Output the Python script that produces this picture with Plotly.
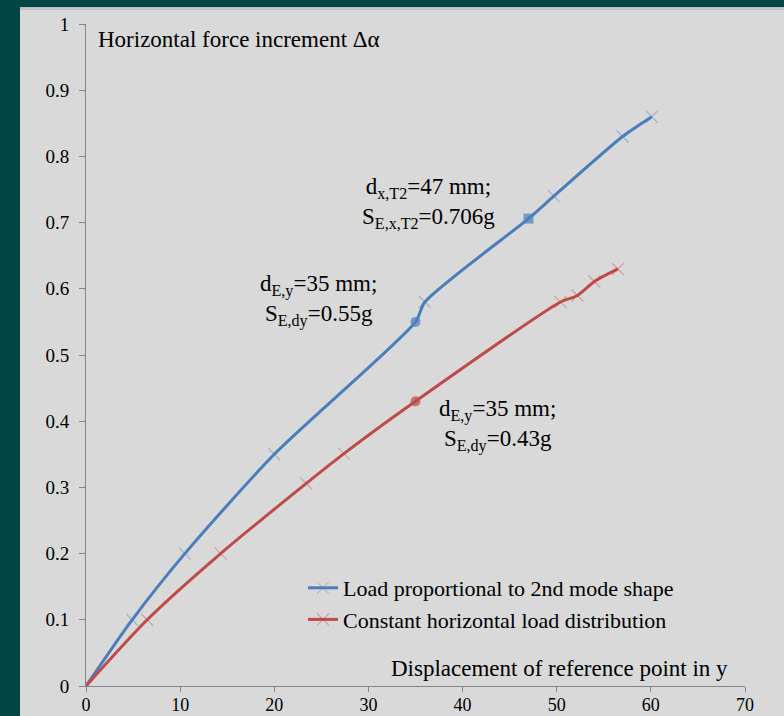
import plotly.graph_objects as go

# ---- data ----
blue_x = [0, 4.9, 10.5, 20, 35, 36, 47, 49.7, 57, 60.1]
blue_y = [0, 0.1, 0.2, 0.35, 0.55, 0.58, 0.706, 0.74, 0.83, 0.86]
blue_kind = ["x", "x", "x", "x", "circle", "x", "square", "x", "x", "x"]

red_x = [0, 6.5, 14.3, 23.4, 27.4, 35, 50.4, 52.2, 54.0, 56.5]
red_y = [0, 0.1, 0.2, 0.306, 0.351, 0.43, 0.58, 0.59, 0.611, 0.63]
red_kind = ["x", "x", "x", "x", "x", "circle", "x", "x", "x", "x"]

x_ticks = [0, 10, 20, 30, 40, 50, 60, 70]
y_ticks = [0, 0.1, 0.2, 0.3, 0.4, 0.5, 0.6, 0.7, 0.8, 0.9, 1]
y_ticktext = ["0", "0.1", "0.2", "0.3", "0.4", "0.5", "0.6", "0.7", "0.8", "0.9", "1"]

series_names = ["Load proportional to 2nd mode shape", "Constant horizontal load distribution"]

# ---- style ----
FONT = "Liberation Serif"
BLUE = "#4a7ebb"
BLUE_X = "rgba(74,126,187,0.55)"
RED = "#be4b48"
RED_X = "rgba(190,75,72,0.55)"
TEAL = "#014644"
PANEL = "#d9d9d9"

W, H = 784, 716
ML, MR, MT, MB = 86, 39, 24, 30
PW, PH = W - ML - MR, H - MT - MB


def px_x(px):
    return (px - ML) / PW


def px_y(py):
    return (H - MB - py) / PH


def marker_style(kinds, solid, faded):
    sym = {"x": "x-thin-open", "circle": "circle", "square": "square"}
    size = {"x": 12, "circle": 10, "square": 10}
    return dict(
        symbol=[sym[k] for k in kinds],
        size=[size[k] for k in kinds],
        color=[faded if k == "x" else solid for k in kinds],
        line=dict(width=[1.3 if k == "x" else 0 for k in kinds],
                  color=[faded if k == "x" else solid for k in kinds]),
    )


fig = go.Figure()
fig.add_trace(go.Scatter(
    x=blue_x, y=blue_y, mode="lines+markers", name=series_names[0],
    line=dict(color=BLUE, width=3, shape="spline", smoothing=0.7),
    marker=marker_style(blue_kind, BLUE, BLUE_X),
))
fig.add_trace(go.Scatter(
    x=red_x, y=red_y, mode="lines+markers", name=series_names[1],
    line=dict(color=RED, width=3, shape="spline", smoothing=0.7),
    marker=marker_style(red_kind, RED, RED_X),
))

txt = dict(family=FONT, size=23, color="#000000")
annotations = [
    dict(x=1.1, y=0.976, xref="x", yref="y", xanchor="left", yanchor="middle",
         text="Horizontal force increment Δα", showarrow=False, font=txt),
    dict(x=36.4, y=0.729, xref="x", yref="y", xanchor="center", yanchor="middle",
         text="d<sub>x,T2</sub>=47 mm;<br>S<sub>E,x,T2</sub>=0.706g", showarrow=False, font=txt),
    dict(x=24.7, y=0.5816, xref="x", yref="y", xanchor="center", yanchor="middle",
         text="d<sub>E,y</sub>=35 mm;<br>S<sub>E,dy</sub>=0.55g", showarrow=False, font=txt),
    dict(x=43.7, y=0.393, xref="x", yref="y", xanchor="center", yanchor="middle",
         text="d<sub>E,y</sub>=35 mm;<br>S<sub>E,dy</sub>=0.43g", showarrow=False, font=txt),
    dict(x=68.4, y=0.027, xref="x", yref="y", xanchor="right", yanchor="middle",
         text="Displacement of reference point in y", showarrow=False, font=txt),
]

shapes = [
    dict(type="rect", xref="paper", yref="paper", x0=px_x(0), x1=px_x(20), y0=px_y(H), y1=px_y(0),
         fillcolor=TEAL, line=dict(width=0), layer="below"),
    dict(type="rect", xref="paper", yref="paper", x0=px_x(0), x1=px_x(W), y0=px_y(7.5), y1=px_y(0),
         fillcolor=TEAL, line=dict(width=0), layer="below"),
    dict(type="rect", xref="paper", yref="paper", x0=px_x(20), x1=px_x(W), y0=px_y(8.5), y1=px_y(7.5),
         fillcolor="#f2f2f2", line=dict(width=0), layer="below"),
    dict(type="rect", xref="paper", yref="paper", x0=px_x(20), x1=px_x(W), y0=px_y(9.5), y1=px_y(8.5),
         fillcolor="#a6a6a6", line=dict(width=0), layer="below"),
]

fig.update_layout(
    width=W, height=H, autosize=False,
    margin=dict(l=ML, r=MR, t=MT, b=MB, pad=0, autoexpand=False),
    paper_bgcolor=PANEL, plot_bgcolor=PANEL,
    font=dict(family=FONT, color="#000000"),
    showlegend=True,
    legend=dict(x=px_x(303), y=px_y(567), xanchor="left", yanchor="top",
                bgcolor="rgba(0,0,0,0)", borderwidth=0,
                font=dict(family=FONT, size=22, color="#000000"),
                itemwidth=30, tracegroupgap=0),
    annotations=annotations,
    shapes=shapes,
)
fig.update_xaxes(range=[0, 70], tickvals=x_ticks, ticktext=[str(v) for v in x_ticks],
                 automargin=False,
                 showgrid=False, zeroline=False, showline=True, linecolor="#868686", linewidth=1,
                 ticks="outside", ticklen=5, tickcolor="#868686",
                 tickfont=dict(family=FONT, size=18, color="#000000"), ticklabelstandoff=-3)
fig.update_yaxes(range=[0, 1], tickvals=y_ticks, ticktext=y_ticktext,
                 automargin=False,
                 showgrid=False, zeroline=False, showline=True, linecolor="#868686", linewidth=1,
                 ticks="outside", ticklen=6, tickcolor="#868686",
                 tickfont=dict(family=FONT, size=19, color="#000000"), ticklabelstandoff=6)

fig.write_html("out.html",
               config={"displayModeBar": False},
               post_script=("document.body.style.margin='0';"
                            "document.body.style.overflow='hidden';"
                            "document.documentElement.style.background='" + PANEL + "';"
                            "document.body.style.background='" + PANEL + "';"))
